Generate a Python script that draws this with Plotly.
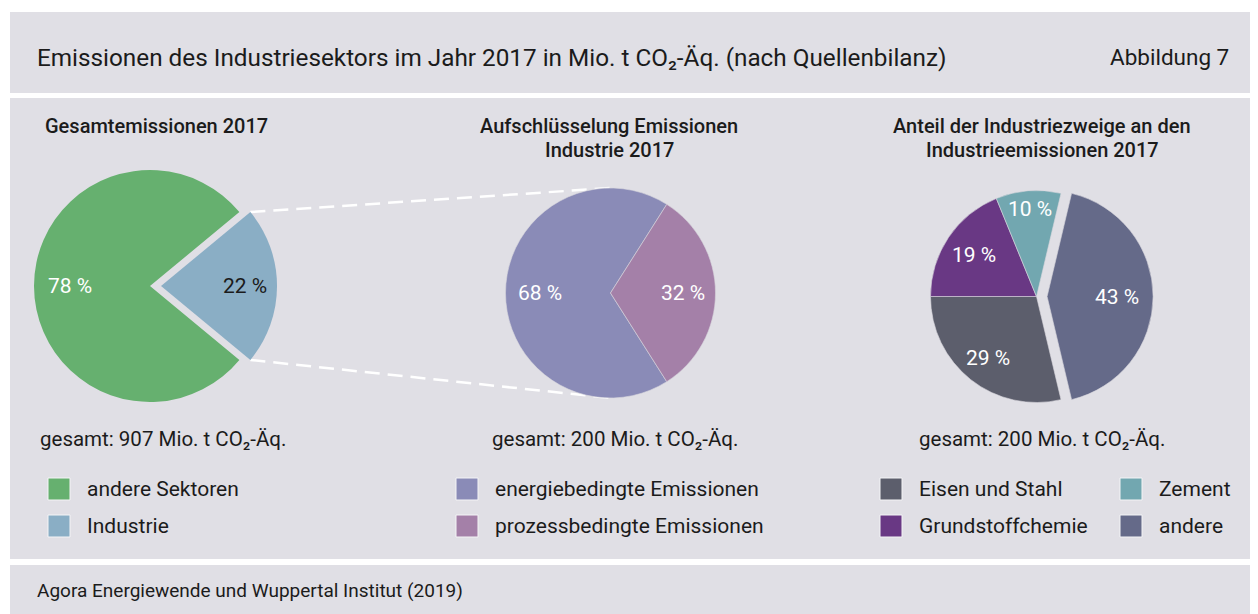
import math
import plotly.graph_objects as go

# ---------------- data ----------------
sector_labels = ["andere Sektoren", "Industrie"]
sector_values = [78, 22]
sector_total = "gesamt: 907 Mio. t CO₂-Äq."

source_labels = ["energiebedingte Emissionen", "prozessbedingte Emissionen"]
source_values = [68, 32]
source_total = "gesamt: 200 Mio. t CO₂-Äq."

branch_labels = ["Eisen und Stahl", "Grundstoffchemie", "Zement", "andere"]
branch_values = [29, 19, 10, 43]
branch_total = "gesamt: 200 Mio. t CO₂-Äq."

main_title = "Emissionen des Industriesektors im Jahr 2017 in Mio. t CO₂-Äq. (nach Quellenbilanz)"
figure_label = "Abbildung 7"
pie_titles = [
    ["Gesamtemissionen 2017"],
    ["Aufschlüsselung Emissionen", "Industrie 2017"],
    ["Anteil der Industriezweige an den", "Industrieemissionen 2017"],
]
source_note = "Agora Energiewende und Wuppertal Institut (2019)"

# ---------------- style / layout ----------------
OFF = 8                      # page body margin in the screenshot
W, H = 1258 - OFF, 614 - OFF
FONT = "Roboto"
TEXT = "#1b1b1b"
PANEL = "#e0dfe5"

sector_colors = ["#66b06f", "#8aaec5"]
source_colors = ["#8a8bb7", "#a480a8"]
branch_colors = ["#5c5e6c", "#693884", "#72a7b0", "#656a89"]

pies = [
    dict(labels=sector_labels, values=sector_values, colors=sector_colors,
         cx=150, cy=286, r=116, pull=[0, 0.095], focus=1,
         label_r=[0.69, 0.72], label_colors=["white", TEXT], line=0,
         title_x=43, title_anchor="left", total=sector_total, total_x=38,
         legend_x=[48]),
    dict(labels=source_labels, values=source_values, colors=source_colors,
         cx=610.5, cy=293, r=105, pull=[0, 0], focus=1,
         label_r=[0.67, 0.69], label_colors=["white", "white"], line=0.6,
         title_x=609, title_anchor="center", total=source_total, total_x=490,
         legend_x=[456]),
    dict(labels=branch_labels, values=branch_values, colors=branch_colors,
         cx=1036.5, cy=296.5, r=106, pull=[0, 0, 0, 0.1], focus=3,
         label_r=[0.74, 0.71, 0.83, 0.66], label_colors=["white"] * 4, line=0.6,
         title_x=1042, title_anchor="center", total=branch_total, total_x=917,
         legend_x=[880, 1120]),
]


def px(x):
    return (x - OFF) / W


def py(y):
    return 1 - (y - OFF) / H


def note(x, y, text, size, anchor="left", color=TEXT, weight=None):
    f = dict(family=FONT, size=size, color=color)
    if weight:
        f["weight"] = weight
    return dict(x=px(x), y=py(y), xref="paper", yref="paper", text=text,
                showarrow=False, xanchor=anchor, yanchor="middle", font=f)


fig = go.Figure()
shapes = []
annotations = []

# background panels
for (y0, y1) in [(12, 93), (98, 559), (565, 614)]:
    shapes.append(dict(type="rect", xref="paper", yref="paper", x0=px(10), x1=1,
                       y0=py(y1), y1=py(y0), fillcolor=PANEL, line=dict(width=0),
                       layer="below"))

annotations.append(note(35, 57, main_title, 24.3))
annotations.append(note(1231, 57, figure_label, 22.5, anchor="right"))
annotations.append(note(35, 590, source_note, 19))

geom = []
for k, p in enumerate(pies):
    vals = p["values"]
    total = sum(vals)
    cum_before = sum(vals[:p["focus"]])
    rot = 90 - 360 * cum_before / total - 180 * vals[p["focus"]] / total
    rot = ((rot + 180) % 360) - 180
    half = p["r"] * (1 + max(p["pull"]))
    fig.add_trace(go.Pie(
        labels=p["labels"], values=vals, sort=False, direction="clockwise",
        rotation=rot, pull=p["pull"], textinfo="none", showlegend=False,
        marker=dict(colors=p["colors"], line=dict(color="#d8d7de", width=p["line"])),
        domain=dict(x=[px(p["cx"] - half), px(p["cx"] + half)],
                    y=[py(p["cy"] + half), py(p["cy"] - half)]),
        hovertemplate="%{label}: %{value} %<extra></extra>",
    ))
    # slice labels
    cum = 0
    slices = []
    for i, v in enumerate(vals):
        a0 = rot + 360 * cum / total
        a1 = rot + 360 * (cum + v) / total
        mid = math.radians((a0 + a1) / 2)
        off = p["pull"][i] * p["r"]
        ox = p["cx"] + off * math.sin(mid)
        oy = p["cy"] - off * math.cos(mid)
        slices.append((a0, a1, ox, oy))
        lr = p["label_r"][i] * p["r"]
        annotations.append(note(ox + lr * math.sin(mid), oy - lr * math.cos(mid),
                                f"{v} %", 21, anchor="center", color=p["label_colors"][i]))
        cum += v
    geom.append(slices)
    # titles (one annotation per line)
    for j, line in enumerate(pie_titles[k]):
        annotations.append(note(p["title_x"], 126 + 24 * j, line, 20,
                                anchor=p["title_anchor"], weight=500))
    # totals
    annotations.append(note(p["total_x"], 439, p["total"], 20.5))
    # legend
    for i, lab in enumerate(p["labels"]):
        col, row = i // 2, i % 2
        lx = p["legend_x"][col]
        ly = 489 + 37 * row
        shapes.append(dict(type="rect", xref="paper", yref="paper",
                           x0=px(lx), x1=px(lx + 22), y0=py(ly + 11), y1=py(ly - 11),
                           fillcolor=p["colors"][i], line=dict(color="#f4f4f6", width=1)))
        annotations.append(note(lx + 37, ly, lab, 21))

# dashed connectors from the pulled "Industrie" slice to the breakdown pie
p1, p2 = pies[0], pies[1]
a0, a1, ox, oy = geom[0][p1["focus"]]
for ang, ty in [(a0, p2["cy"] - p2["r"]), (a1, p2["cy"] + p2["r"])]:
    t = math.radians(ang)
    sx = ox + p1["r"] * math.sin(t)
    sy = oy - p1["r"] * math.cos(t)
    shapes.append(dict(type="line", xref="paper", yref="paper",
                       x0=px(sx), y0=py(sy), x1=px(p2["cx"]), y1=py(ty),
                       line=dict(color="white", width=2.5, dash="15px,8px"), layer="below"))

fig.update_layout(
    width=W, height=H, margin=dict(l=0, r=0, t=0, b=0),
    paper_bgcolor="white", plot_bgcolor="white",
    shapes=shapes, annotations=annotations,
    font=dict(family=FONT, color=TEXT),
)

fig.write_html("out.html")
